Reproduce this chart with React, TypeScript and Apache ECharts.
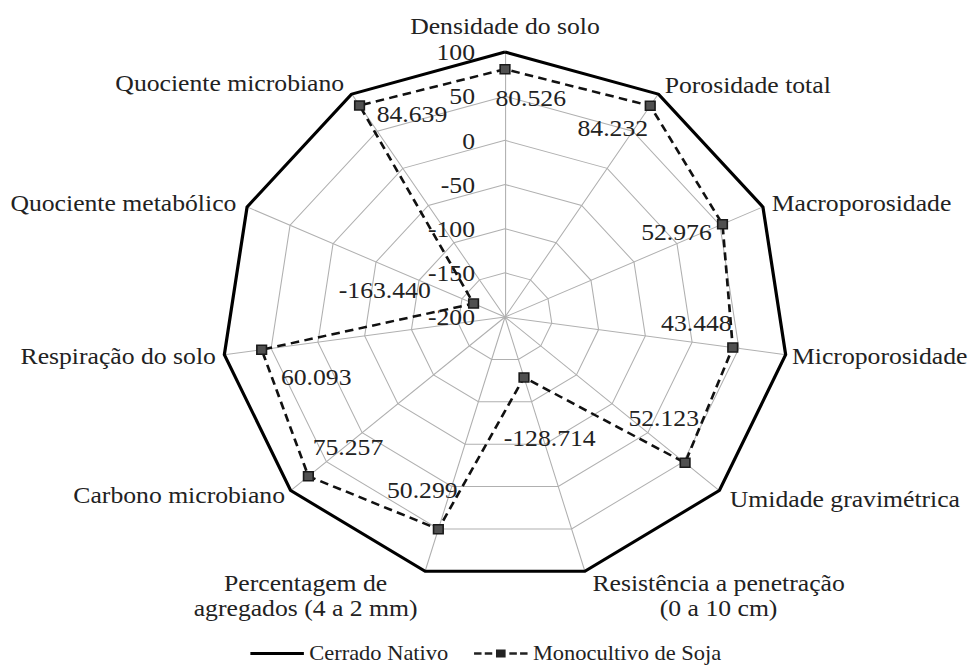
import React, { useEffect, useRef } from "react";
import * as echarts from "echarts";

// Indicators, read clockwise from the top
const indicatorNames = [
  "Densidade do solo",
  "Porosidade total",
  "Macroporosidade",
  "Microporosidade",
  "Umidade gravimétrica",
  "Resistência a penetração\n(0 a 10 cm)",
  "Percentagem de\nagregados (4 a 2 mm)",
  "Carbono microbiano",
  "Respiração do solo",
  "Quociente metabólico",
  "Quociente microbiano",
];
const cerradoNativo = [100, 100, 100, 100, 100, 100, 100, 100, 100, 100, 100];
const monocultivoSoja = [80.526, 84.232, 52.976, 43.448, 52.123, -128.714, 50.299, 75.257, 60.093, -163.44, 84.639];
const seriesNames = ["Cerrado Nativo", "Monocultivo de Soja"];
const axisMin = -200;
const axisMax = 100;
const axisSplits = 6;

// layout only (not data)
const nameGaps = [14, 11, 9, 6, 13, 25, 25, 7, 8, 11, 13];
const labelOffsets: [number, number][] = [
  [24, 29], [-35, 22], [-43, 8], [-34, -25], [-20, -45], [24, 60],
  [-15, -39], [37, -29], [51, 27], [-83, -14], [49, 8],
];

const FONT = "Liberation Serif";
const TXT = "#222";
const FS = 24;
const STRETCH = 1.07;

export default function App() {
  const ref = useRef<HTMLDivElement>(null);
  useEffect(() => {
    if (!ref.current) return;
    const chart = echarts.init(ref.current, undefined, { renderer: "svg" });
    // ECharts lays radar indicators counter-clockwise from the top
    const order = [0, ...Array.from({ length: indicatorNames.length - 1 }, (_, k) => indicatorNames.length - 1 - k)];
    const indicator = order.map((i) => ({
      name: indicatorNames[i],
      min: axisMin,
      max: axisMax,
      nameGap: nameGaps[i],
      ...(i === 0 ? { axisLabel: { show: true } } : {}),
    }));
    const rich: Record<string, any> = {
      c: { align: "center", fontFamily: FONT, fontSize: FS, color: TXT, lineHeight: 25 },
    };
    labelOffsets.forEach(([dx, dy], i) => {
      rich["p" + i] = {
        fontFamily: FONT,
        fontSize: FS,
        color: TXT,
        padding: [dy > 0 ? 2 * dy : 0, dx < 0 ? -2 * dx : 0, dy < 0 ? -2 * dy : 0, dx > 0 ? 2 * dx : 0],
      };
    });
    chart.setOption({
      animation: false,
      backgroundColor: "#fff",
      textStyle: { fontFamily: FONT },
      legend: {
        left: 229,
        top: 638,
        itemWidth: 50,
        itemHeight: 10,
        itemGap: 24,
        textStyle: { fontFamily: FONT, fontSize: 21, color: TXT },
        data: [
          {
            name: seriesNames[0],
            icon: "path://M0,0M50,10M0,3.5H50V6.5H0Z",
            itemStyle: { color: "#000", borderWidth: 0 },
          },
          {
            name: seriesNames[1],
            icon:
              "path://M0,0M50,10M0,3.8H7V6.2H0ZM10,3.8H17V6.2H10ZM33,3.8H40V6.2H33ZM43,3.8H50V6.2H43ZM20.5,1H29.5V9H20.5Z",
            itemStyle: { color: "#222", borderWidth: 0 },
          },
        ],
      },
      radar: {
        center: [505 / STRETCH, 317],
        radius: 265,
        startAngle: 90,
        splitNumber: axisSplits,
        shape: "polygon",
        indicator,
        axisName: {
          color: TXT,
          fontFamily: FONT,
          fontSize: FS,
          formatter: (name: string) =>
            name.includes("\n") ? name.split("\n").map((l) => "{c|" + l + "}").join("\n") : name,
          rich,
        },
        axisLabel: {
          show: false,
          color: TXT,
          fontFamily: FONT,
          fontSize: FS,
          margin: 28,
        },
        axisLine: { lineStyle: { color: "#b0b0b0", width: 1 } },
        splitLine: { lineStyle: { color: "#b0b0b0", width: 1 } },
        splitArea: { show: false },
        axisTick: { show: false },
      },
      series: [
        {
          type: "radar",
          name: seriesNames[0],
          symbol: "none",
          lineStyle: { color: "#000", width: 3 },
          itemStyle: { color: "#000" },
          data: [{ name: seriesNames[0], value: order.map((i) => cerradoNativo[i]) }],
          z: 2,
        },
        {
          type: "radar",
          name: seriesNames[1],
          symbol: "rect",
          symbolSize: 9,
          lineStyle: { color: "#111", width: 2.5, type: [8, 5] },
          itemStyle: { color: "#505050", borderColor: "#1a1a1a", borderWidth: 1.5 },
          label: {
            show: true,
            position: "inside",
            formatter: (p: any) => {
              const idx = monocultivoSoja.indexOf(p.value);
              return "{p" + idx + "|" + Number(p.value).toFixed(3) + "}";
            },
            rich,
          },
          data: [{ name: seriesNames[1], value: order.map((i) => monocultivoSoja[i]) }],
          z: 3,
        },
      ],
    });
    return () => chart.dispose();
  }, []);
  return (
    <div
      ref={ref}
      style={{
        position: "absolute",
        left: 0,
        top: 0,
        width: 978 / STRETCH,
        height: 667,
        transform: `scaleX(${STRETCH})`,
        transformOrigin: "0 0",
        background: "#fff",
      }}
    />
  );
}
